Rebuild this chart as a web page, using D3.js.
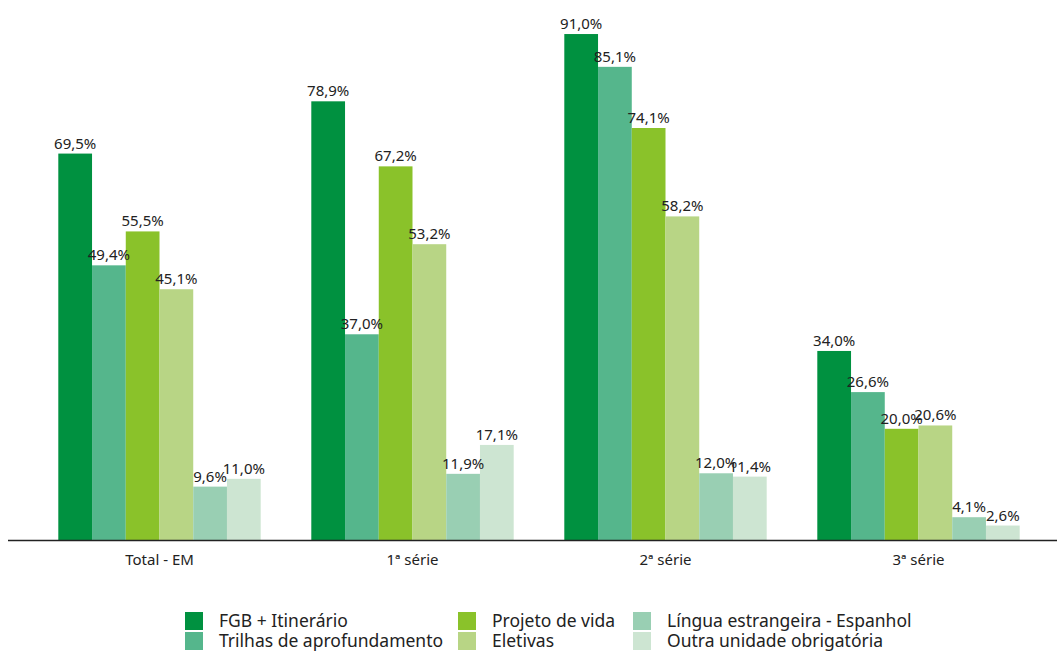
<!DOCTYPE html>
<html>
<head>
<meta charset="utf-8">
<script src="https://cdn.jsdelivr.net/npm/d3@7"></script>
<style>
  html, body { margin: 0; padding: 0; background: #fff; }
  svg { display: block; font-family: "Noto Sans", "Open Sans", sans-serif; }
</style>
</head>
<body>
<svg id="chart" width="1057" height="652"></svg>
<script>
// Categories along the x axis
const categories = ["Total - EM", "1ª série", "2ª série", "3ª série"];

// Series names and values (%) per category
const seriesNames = [
  "FGB + Itinerário",
  "Trilhas de aprofundamento",
  "Projeto de vida",
  "Eletivas",
  "Língua estrangeira - Espanhol",
  "Outra unidade obrigatória"
];
const fgbItinerario = [69.5, 78.9, 91.0, 34.0];
const trilhas       = [49.4, 37.0, 85.1, 26.6];
const projetoVida   = [55.5, 67.2, 74.1, 20.0];
const eletivas      = [45.1, 53.2, 58.2, 20.6];
const espanhol      = [9.6, 11.9, 12.0, 4.1];
const outraUnidade  = [11.0, 17.1, 11.4, 2.6];

const seriesValues = [fgbItinerario, trilhas, projetoVida, eletivas, espanhol, outraUnidade];
const colors = ["#009140", "#55b68c", "#8ac22a", "#b8d585", "#99cfb3", "#cde5d2"];

const svg = d3.select("#chart");
const baseY = 540;

const x0 = d3.scaleBand()
  .domain(categories)
  .range([33, 1045])
  .paddingInner(0.2)
  .paddingOuter(0.1);

const x1 = d3.scaleBand()
  .domain(seriesNames)
  .range([0, x0.bandwidth()])
  .padding(0);

const y = d3.scaleLinear()
  .domain([0, 100])
  .range([baseY, -16]);

const color = d3.scaleOrdinal().domain(seriesNames).range(colors);

const fmt = v => d3.format(".1f")(v).replace(".", ",") + "%";

// Build rows: one group per category
const rows = categories.map((c, i) => ({
  cat: c,
  vals: seriesNames.map((s, j) => ({ s, v: seriesValues[j][i] }))
}));

const groups = svg.append("g").selectAll("g")
  .data(rows)
  .join("g")
  .attr("transform", d => `translate(${x0(d.cat)},0)`);

groups.selectAll("rect")
  .data(d => d.vals)
  .join("rect")
  .attr("x", d => x1(d.s))
  .attr("y", d => y(d.v))
  .attr("width", x1.bandwidth())
  .attr("height", d => y(0) - y(d.v))
  .attr("fill", d => color(d.s));

groups.selectAll("text")
  .data(d => d.vals)
  .join("text")
  .attr("x", d => x1(d.s) + x1.bandwidth() / 2)
  .attr("y", d => y(d.v) - 5)
  .attr("text-anchor", "middle")
  .attr("font-size", 15)
  .attr("fill", "#222")
  .text(d => fmt(d.v));

// Category axis
const xAxis = svg.append("g")
  .attr("transform", `translate(0,${baseY})`)
  .call(d3.axisBottom(x0).tickSize(0).tickPadding(14));
xAxis.select(".domain").remove();
xAxis.selectAll("text")
  .attr("font-size", 15)
  .attr("font-family", "\"Noto Sans\", sans-serif")
  .attr("fill", "#222");

svg.append("line")
  .attr("x1", 8).attr("x2", 1057)
  .attr("y1", baseY + 0.5).attr("y2", baseY + 0.5)
  .attr("stroke", "#222")
  .attr("stroke-width", 1.5);

// Legend: three columns, two rows
const legendCols = [185, 458, 633];
const legendRows = [612, 632];
const legend = svg.append("g").selectAll("g")
  .data(seriesNames)
  .join("g")
  .attr("transform", (d, i) => `translate(${legendCols[Math.floor(i / 2)]},${legendRows[i % 2]})`);

legend.append("rect")
  .attr("x", 0).attr("y", 0)
  .attr("width", 18).attr("height", 18)
  .attr("fill", d => color(d));

legend.append("text")
  .attr("x", 34)
  .attr("y", 15)
  .attr("font-size", 17.5)
  .attr("fill", "#222")
  .text(d => d);
</script>
</body>
</html>
